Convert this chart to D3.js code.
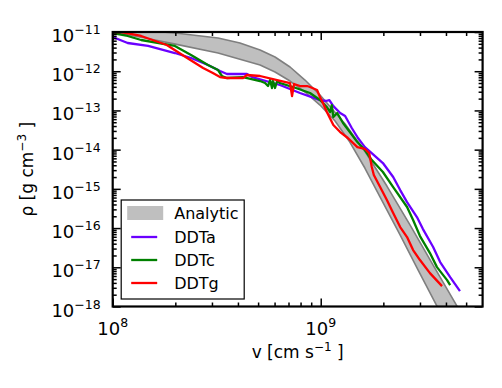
<!DOCTYPE html>
<html>
<head>
<meta charset="utf-8">
<script src="https://cdn.jsdelivr.net/npm/d3@7"></script>
<style>
body { margin: 0; background: #fff; }
text { font-family: "DejaVu Sans", sans-serif; fill: #000; white-space: pre; }
</style>
</head>
<body>
<div id="chart-area"></div>
<script>

// Analytic band (upper and lower edge), v in cm/s, rho in g/cm^3
var upperV   = [1.00e8, 1.51e8, 2.00e8, 3.21e8, 4.09e8, 5.11e8, 6.03e8, 7.12e8, 8.40e8, 9.92e8, 1.31e9, 1.65e9, 2.08e9, 2.69e9, 3.47e9, 4.52e9, 5.16e9];
var upperRho = [1.19e-11, 1.06e-11, 9.4e-12, 7.0e-12, 5.24e-12, 3.47e-12, 2.30e-12, 1.28e-12, 5.96e-13, 2.47e-13, 4.50e-14, 8.19e-15, 1.18e-15, 1.19e-16, 1.14e-17, 1.02e-18, 2.5e-19];
var lowerV   = [1.00e8, 1.51e8, 2.00e8, 3.21e8, 5.11e8, 6.03e8, 7.12e8, 8.40e8, 9.92e8, 1.172e9, 1.38e9, 1.63e9, 1.93e9, 2.41e9, 2.94e9, 3.62e9, 4.19e9];
var lowerRho = [1.0e-11, 6.6e-12, 4.9e-12, 2.9e-12, 1.44e-12, 9.54e-13, 5.62e-13, 2.95e-13, 1.37e-13, 5.37e-14, 1.56e-14, 3.40e-15, 6.18e-16, 6.63e-17, 8.48e-18, 1.02e-18, 2.5e-19];

// DDTa
var ddtaV   = [1.00e8, 1.18e8, 1.48e8, 1.99e8, 2.38e8, 2.87e8, 3.28e8, 3.54e8, 4.42e8, 4.68e8, 6.37e8, 7.95e8, 9.92e8, 1.06e9, 1.10e9, 1.15e9, 1.24e9, 1.31e9, 1.41e9, 1.51e9, 1.63e9, 1.78e9, 1.99e9, 2.23e9, 2.41e9, 2.60e9, 2.90e9, 3.10e9, 3.47e9, 3.75e9, 4.19e9, 4.67e9];
var ddtaRho = [7.45e-12, 5.24e-12, 4.40e-12, 2.91e-12, 2.17e-12, 1.44e-12, 1.01e-12, 8.48e-13, 8.48e-13, 7.11e-13, 4.45e-13, 2.78e-13, 1.84e-13, 1.74e-13, 1.84e-13, 1.29e-13, 8.59e-14, 7.20e-14, 3.56e-14, 1.98e-14, 1.16e-14, 7.73e-15, 4.55e-15, 2.0e-15, 9.32e-16, 4.60e-16, 1.91e-16, 9.43e-17, 3.28e-17, 1.36e-17, 5.62e-18, 2.47e-18];

// DDTc
var ddtcV   = [1.00e8, 1.18e8, 1.37e8, 1.99e8, 2.38e8, 2.87e8, 3.21e8, 3.35e8, 3.54e8, 4.23e8, 5.11e8, 5.40e8, 5.58e8, 5.71e8, 5.83e8, 5.90e8, 6.03e8, 6.17e8, 6.37e8, 7.36e8, 8.88e8, 9.92e8, 1.07e9, 1.11e9, 1.13e9, 1.15e9, 1.20e9, 1.28e9, 1.38e9, 1.50e9, 1.63e9, 1.76e9, 1.99e9, 2.23e9, 2.60e9, 2.78e9, 3.00e9, 3.35e9, 3.62e9, 4.05e9, 4.19e9];
var ddtcRho = [9.43e-12, 7.91e-12, 6.25e-12, 4.40e-12, 2.59e-12, 1.44e-12, 1.07e-12, 7.55e-13, 6.71e-13, 7.11e-13, 5.62e-13, 5.0e-13, 4.19e-13, 5.96e-13, 3.73e-13, 5.62e-13, 3.73e-13, 5.62e-13, 5.0e-13, 3.95e-13, 2.78e-13, 1.84e-13, 1.22e-13, 9.10e-14, 1.37e-13, 6.79e-14, 8.59e-14, 4.77e-14, 2.81e-14, 1.56e-14, 9.77e-15, 5.43e-15, 2.69e-15, 1.11e-15, 3.44e-16, 1.60e-16, 6.25e-17, 2.30e-17, 1.01e-17, 4.71e-18, 3.51e-18];

// DDTg
var ddtgV   = [1.00e8, 1.10e8, 1.37e8, 1.82e8, 2.28e8, 2.72e8, 3.03e8, 3.28e8, 3.54e8, 4.23e8, 4.42e8, 5.11e8, 6.17e8, 7.12e8, 7.28e8, 7.44e8, 7.95e8, 8.59e8, 8.88e8, 9.60e8, 9.92e8, 1.03e9, 1.07e9, 1.15e9, 1.24e9, 1.35e9, 1.50e9, 1.63e9, 1.71e9, 1.76e9, 1.80e9, 1.93e9, 2.08e9, 2.23e9, 2.41e9, 2.60e9, 2.78e9, 3.00e9, 3.35e9, 3.83e9];
var ddtgRho = [1.0e-11, 1.0e-11, 7.91e-12, 4.66e-12, 2.17e-12, 1.21e-12, 8.99e-13, 7.11e-13, 6.71e-13, 6.71e-13, 8.0e-13, 7.55e-13, 5.96e-13, 5.0e-13, 2.33e-13, 4.72e-13, 4.19e-13, 4.19e-13, 3.95e-13, 3.31e-13, 2.20e-13, 1.46e-13, 9.10e-14, 4.24e-14, 2.81e-14, 1.98e-14, 1.16e-14, 1.04e-14, 8.19e-15, 3.60e-15, 2.25e-15, 1.11e-15, 5.18e-16, 2.41e-16, 1.06e-16, 5.89e-17, 2.75e-17, 1.53e-17, 7.11e-18, 3.31e-18];

// Ticks
var xMajor = [1e8, 1e9];
var xMajorExp = ["8", "9"];
var yExps = [-18, -17, -16, -15, -14, -13, -12, -11];

var legendNames = ["DDTa", "DDTc", "DDTg"];
var colors = ["#6a00ff", "#008000", "#ff0000"];

var margin = { left:112.7, right:19.4, top:32, bottom:81.5 };

var width = 502 - margin.left - margin.right,
    height = 388 - margin.top - margin.bottom;

var svg = d3.select("#chart-area")
    .append("svg")
        .attr("width", 502)
        .attr("height", 388);

var g = svg.append("g")
        .attr("transform", "translate(" + margin.left + ", " + margin.top + ")");

// Scales
var x = d3.scaleLog()
    .domain([1e8, 6e9])
    .range([0, width]);

var y = d3.scaleLog()
    .domain([1e-18, 1e-11])
    .range([height, 0]);

var yMajor = yExps.map(function(e){ return Math.pow(10, e); });

var xMinor = [];
[1e8, 1e9].forEach(function(b){
    for (var k = 2; k <= 9; k++) { if (k * b < 6e9) xMinor.push(k * b); }
});
var yMinor = [];
yExps.slice(0, -1).forEach(function(e){
    for (var k = 2; k <= 9; k++) yMinor.push(k * Math.pow(10, e));
});

g.append("clipPath").attr("id", "clip")
    .append("rect").attr("width", width).attr("height", height);

var plot = g.append("g").attr("clip-path", "url(#clip)");

// Analytic band
var bandPts = upperV.map(function(v, i){ return [v, upperRho[i]]; })
    .concat(lowerV.map(function(v, i){ return [v, lowerRho[i]]; }).reverse());

var line = d3.line()
    .x(function(d){ return x(d[0]); })
    .y(function(d){ return y(d[1]); });

plot.append("path")
    .attr("d", line(bandPts) + "Z")
    .attr("fill", "#bfbfbf")
    .attr("stroke", "#7f7f7f")
    .attr("stroke-width", 1.6)
    .attr("stroke-linejoin", "round");

// Model lines
var series = [[ddtaV, ddtaRho], [ddtcV, ddtcRho], [ddtgV, ddtgRho]];
series.forEach(function(s, i){
    var pts = s[0].map(function(v, j){ return [v, s[1][j]]; });
    plot.append("path")
        .attr("d", line(pts))
        .attr("fill", "none")
        .attr("stroke", colors[i])
        .attr("stroke-width", 2.3)
        .attr("stroke-linejoin", "round");
});

// Ticks (inward, all four sides)
function ticks(axis, vals, size, tr) {
    var a = g.append("g")
        .attr("transform", tr)
        .call(axis.tickValues(vals).tickSize(size).tickSizeOuter(0).tickFormat(""));
    a.select(".domain").remove();
    a.selectAll("line").attr("stroke-width", 1.5);
}
ticks(d3.axisBottom(x), xMajor, -8, "translate(0," + height + ")");
ticks(d3.axisBottom(x), xMinor, -4, "translate(0," + height + ")");
ticks(d3.axisTop(x), xMajor, -8, "translate(0,0)");
ticks(d3.axisTop(x), xMinor, -4, "translate(0,0)");
ticks(d3.axisLeft(y), yMajor, -8, "translate(0,0)");
ticks(d3.axisLeft(y), yMinor, -4, "translate(0,0)");
ticks(d3.axisRight(y), yMajor, -8, "translate(" + width + ",0)");
ticks(d3.axisRight(y), yMinor, -4, "translate(" + width + ",0)");

// Frame
g.append("rect")
    .attr("width", width)
    .attr("height", height)
    .attr("fill", "none")
    .attr("stroke", "#000")
    .attr("stroke-width", 2.2);

// Tick labels
xMajor.forEach(function(v, i){
    var t = g.append("text")
        .attr("x", x(v))
        .attr("y", height + 28.5)
        .attr("text-anchor", "middle")
        .attr("font-size", "18px");
    t.append("tspan").text("10");
    t.append("tspan").attr("dy", -8).attr("font-size", "12.5px").text(xMajorExp[i]);
});

yExps.forEach(function(e){
    var t = g.append("text")
        .attr("x", -12)
        .attr("y", y(Math.pow(10, e)) + 10)
        .attr("text-anchor", "end")
        .attr("font-size", "18px");
    t.append("tspan").text("10");
    t.append("tspan").attr("dy", -8).attr("font-size", "12.5px").text("\u2212" + (-e));
});

// X Label
var xl = g.append("text")
    .attr("x", width / 2)
    .attr("y", height + 51)
    .attr("text-anchor", "middle")
    .attr("font-size", "17px");
xl.append("tspan").text("v [cm s");
xl.append("tspan").attr("dy", -7).attr("font-size", "12px").text("\u22121");
xl.append("tspan").attr("dy", 7).text(" ]");

// Y Label
var yl = svg.append("text")
    .attr("transform", "translate(33," + (margin.top + height / 2) + ") rotate(-90)")
    .attr("text-anchor", "middle")
    .attr("font-size", "17px");
yl.append("tspan").text("\u03c1 [g cm");
yl.append("tspan").attr("dy", -7).attr("font-size", "12px").text("\u22123");
yl.append("tspan").attr("dy", 7).text(" ]");

// Legend
var leg = g.append("g").attr("transform", "translate(8.5,168)");
leg.append("rect")
    .attr("width", 123)
    .attr("height", 99)
    .attr("fill", "#fff")
    .attr("stroke", "#000")
    .attr("stroke-width", 1.2);
leg.append("rect")
    .attr("x", 6).attr("y", 6)
    .attr("width", 36).attr("height", 14)
    .attr("fill", "#bfbfbf");
leg.append("text")
    .attr("x", 53).attr("y", 19)
    .attr("font-size", "16px")
    .text("Analytic");
legendNames.forEach(function(name, i){
    var yy = 37 + i * 23;
    leg.append("line")
        .attr("x1", 10).attr("x2", 36)
        .attr("y1", yy).attr("y2", yy)
        .attr("stroke", colors[i])
        .attr("stroke-width", 2.3);
    leg.append("text")
        .attr("x", 53).attr("y", yy + 6)
        .attr("font-size", "16px")
        .text(name);
});

</script>
</body>
</html>
